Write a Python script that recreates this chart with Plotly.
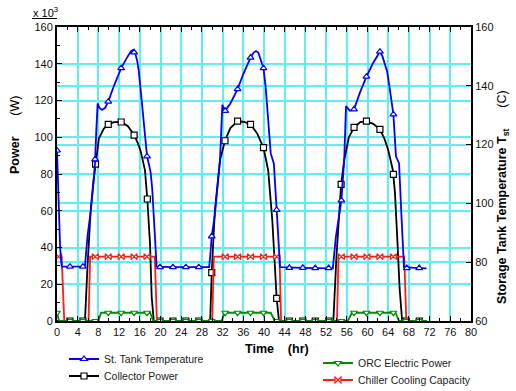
import plotly.graph_objects as go

# ---------------- data ----------------
# Storage tank temperature (C), right axis
temp_t = [0, 0.3, 0.6, 0.9, 2.5, 5.0, 5.4, 5.9, 6.5, 7.0, 7.35, 7.6, 7.85, 8.2, 8.7, 9.3, 9.9, 11.0,
          12.4, 13.5, 14.3, 14.7, 15.1, 15.5, 15.8, 16.2, 16.7, 17.1, 17.4, 17.8, 18.1, 18.4, 18.8, 19.25,
          22.4, 27.4, 29.4, 29.6, 29.9, 30.5, 31.0, 31.5, 31.95, 32.5, 33.5, 34.9, 36.0, 37.4, 38.0,
          38.45, 38.9, 39.4, 39.9, 40.3, 40.6, 41.0, 41.3, 41.9, 42.45, 43.1, 47.5, 53.3, 53.9, 54.95,
          55.5, 55.85, 56.6, 57.4, 58.5, 59.8, 61.0, 62.0, 62.4, 62.9, 63.4, 63.8, 64.3, 65.0, 65.5,
          66.1, 66.5, 67.05, 70.0, 71.4]
temp_v = [118, 100, 85, 78.5, 78.5, 78.5, 78.6, 89, 97, 106, 114, 125, 134, 132.5, 131.8, 132.5, 134.6, 140,
          146, 149.5, 151.8, 152.2, 151.2, 148.5, 145, 138, 128, 120, 116, 113, 110.5, 105, 92, 78.5,
          78.3, 78.3, 78.3, 82, 88.8, 96, 105, 114.8, 133.5, 131.5, 134, 138.9, 144, 149.6, 151.3,
          151.8, 151.3, 149, 146, 140, 134, 124, 117, 113.6, 97.8, 78.3, 78.1, 77.9, 88.7, 101,
          114.8, 133.1, 131.5, 132, 137.5, 143.1, 147.5, 150.8, 151.6, 150, 147.5, 144.8, 139, 130.3, 116,
          113.6, 98, 78.3, 78.0, 77.9]
temp_mk_t = [0, 2.5, 5.0, 7.35, 9.9, 12.4, 14.9, 17.4, 19.9, 22.4, 24.9, 27.4, 29.9, 32.5, 34.9, 37.4,
             39.9, 42.45, 44.9, 47.5, 49.9, 52.5, 54.95, 57.4, 59.8, 62.4, 65.0, 67.6, 70.0]
temp_mk_v = [118, 78.5, 78.5, 115, 134.6, 146, 151.4, 116, 78.3, 78.3, 78.3, 78.3, 88.8, 131.5, 138.9,
             149.6, 146, 97.8, 78.1, 78.1, 78.0, 78.0, 101, 132, 143.1, 151.6, 130.3, 78.0, 78.0]

# Collector power (x 10^3 W), left axis
coll_t = [0, 5.4, 5.9, 6.5, 7.0, 7.45, 8.1, 9.0, 9.9, 11.0, 12.4, 13.7, 14.9, 15.6, 16.2, 17.0, 17.45,
          17.97, 18.3, 18.7, 29.6, 29.9, 30.5, 31.5, 32.46, 33.5, 34.9, 36.2, 37.4, 38.7, 39.9, 40.8,
          41.6, 42.45, 42.9, 53.4, 54.0, 54.9, 55.5, 56.4, 57.4, 58.6, 59.8, 61.1, 62.4, 63.3, 64.0,
          64.9, 65.3, 65.8, 66.2, 66.7, 71.5]
coll_v = [0, 0, 30, 60, 75, 85.4, 99.4, 104.5, 107, 108.2, 108.3, 106, 101.2, 97, 92.1, 82, 66.4,
          42.3, 13, 0, 0, 26.3, 60, 87.6, 98.1, 105, 108.8, 108.3, 107, 102, 94.3, 82.2,
          55, 12.3, 0, 0, 35, 74.4, 87.6, 100, 105.4, 108.2, 108.8, 107.3, 104.3, 99, 93.1,
          82.2, 70, 42.3, 18, 0, 0]
coll_mk_t = [2.5, 5.0, 7.45, 9.9, 12.4, 14.9, 17.45, 19.9, 22.4, 24.9, 27.4, 29.9, 32.46, 34.9, 37.4,
             39.9, 42.45, 44.9, 47.5, 49.9, 52.5, 54.9, 57.4, 59.8, 62.4, 65.0, 67.5, 70.0]
coll_mk_v = [0, 0, 85.4, 107, 108.3, 101.2, 66.4, 0, 0, 0, 0, 26.3, 98.1, 108.8, 107,
             94.3, 12.3, 0, 0, 0, 0, 74.4, 105.4, 108.8, 104.3, 79.8, 0, 0]

# Chiller cooling capacity (x 10^3 W), left axis
chil_t = [0, 0.9, 1.4, 6.1, 6.4, 18.9, 19.3, 30.0, 30.3, 43.0, 43.3, 54.1, 54.4, 67.1, 67.5, 71.5]
chil_v = [35, 35, 0, 0, 35, 35, 0, 0, 35, 35, 0, 0, 35, 35, 0, 0]
chil_mk_t = [0.3, 7.4, 9.9, 12.4, 14.9, 17.4, 32.5, 34.9, 37.4, 39.9, 42.45, 54.95, 57.4, 59.9, 62.4, 65.0]
chil_mk_v = [35, 35, 35, 35, 35, 35, 35, 35, 35, 35, 35, 35, 35, 35, 35, 35]

# ORC electric power (x 10^3 W), left axis
orc_t = [0, 0.4, 8.0, 8.5, 18.0, 18.6, 31.8, 32.4, 41.3, 42.1, 56.2, 57.0, 65.4, 66.1, 71.5]
orc_v = [4.5, 0, 0, 4.5, 4.5, 0, 0, 4.5, 4.5, 0, 0, 4.5, 4.5, 0, 0]
orc_mk_t = [0, 2.5, 5.0, 7.4, 9.9, 12.4, 14.9, 17.4, 19.9, 22.4, 24.9, 27.4, 29.9, 32.5, 34.9, 37.4,
            39.9, 42.45, 44.9, 47.5, 49.9, 52.5, 54.95, 57.4, 59.8, 62.4, 65.0, 67.4, 70.0]
orc_mk_v = [4.5, 0, 0, 0, 4.5, 4.5, 4.5, 4.5, 0, 0, 0, 0, 0, 4.5, 4.5, 4.5,
            4.5, 0, 0, 0, 0, 0, 0, 4.5, 4.5, 4.5, 4.5, 0, 0]

x_ticks = list(range(0, 81, 4))
y_ticks = list(range(0, 161, 20))
y2_ticks = list(range(60, 161, 20))

# ---------------- styles ----------------
FONT = "Arial, Liberation Sans, sans-serif"
GRID = "#5CF0F0"
BLUE = "#0000FF"
BLACK = "#000000"
RED = "#FF1A1A"
GREEN = "#008C00"
LW = 1.8
MS = 6

# plot area in pixels
PL, PR, PT, PB = 57, 471, 27, 321
def px(x):
    return (x - PL) / (PR - PL)
def py(y):
    return (PB - y) / (PB - PT)

fig = go.Figure()

def add_series(t, v, mt, mv, color, symbol, name, yaxis, legend):
    fig.add_trace(go.Scatter(x=t, y=v, mode="lines", line=dict(color=color, width=LW),
                             yaxis=yaxis, showlegend=False, hoverinfo="skip"))
    fig.add_trace(go.Scatter(x=mt, y=mv, mode="markers", yaxis=yaxis, showlegend=False,
                             marker=dict(symbol=symbol, size=MS, color="white",
                                         line=dict(color=color, width=1.2))))
    fig.add_trace(go.Scatter(x=[None], y=[None], mode="lines+markers", name=name, legend=legend,
                             line=dict(color=color, width=LW), yaxis=yaxis,
                             marker=dict(symbol=symbol, size=MS, color="white",
                                         line=dict(color=color, width=1.2))))

add_series(temp_t, temp_v, temp_mk_t, temp_mk_v, BLUE, "triangle-up", "St. Tank Temperature", "y2", "legend")
add_series(coll_t, coll_v, coll_mk_t, coll_mk_v, BLACK, "square", "Collector Power", "y", "legend2")
add_series(chil_t, chil_v, chil_mk_t, chil_mk_v, RED, "bowtie", "Chiller Cooling Capacity", "y", "legend4")
add_series(orc_t, orc_v, orc_mk_t, orc_mk_v, GREEN, "triangle-down", "ORC Electric Power", "y", "legend3")

axis_common = dict(showline=True, linecolor="black", linewidth=2, ticks="inside",
                   tickcolor="black", ticklen=5, tickwidth=1, zeroline=False,
                   gridcolor=GRID, gridwidth=1.5, automargin=False,
                   tickfont=dict(family=FONT, size=11, color="#111111"))

def leg(xpix, center_y):
    return dict(x=px(xpix), y=py(center_y - 14.5), xanchor="left", yanchor="top",
                font=dict(family=FONT, size=10.5, color="#222222"), bgcolor="rgba(0,0,0,0)")

fig.update_layout(
    width=516, height=391,
    margin=dict(l=PL, r=516 - PR, t=PT, b=391 - PB, autoexpand=False),
    paper_bgcolor="white", plot_bgcolor="white",
    font=dict(family=FONT, size=11, color="black"),
    xaxis=dict(range=[0, 80], tickvals=x_ticks, mirror="ticks",
               minor=dict(dtick=2, ticks="inside", ticklen=3, tickcolor="black", showgrid=False),
               **axis_common),
    yaxis=dict(range=[0, 160], tickvals=y_ticks,
               minor=dict(dtick=10, ticks="inside", ticklen=3, tickcolor="black", showgrid=False),
               **axis_common),
    yaxis2=dict(range=[60, 160], tickvals=y2_ticks, overlaying="y", side="right",
                **axis_common),
    legend=leg(64, 359),
    legend2=leg(64, 376),
    legend3=leg(318, 363),
    legend4=leg(318, 380),
    annotations=[
        dict(text="x 10<sup>3</sup>", x=px(31), y=py(12), xref="paper", yref="paper",
             xanchor="left", yanchor="middle", showarrow=False, font=dict(family=FONT, size=11)),
        dict(text="<b>Power</b>      (W)", x=px(15), y=py(135), xref="paper",
             yref="paper", textangle=-90, showarrow=False, xanchor="center", yanchor="middle",
             font=dict(family=FONT, size=12.5)),
        dict(text="<b>Storage Tank Temperature T<sub>st</sub></b>      (C)", x=px(503),
             y=py(197), xref="paper", yref="paper", textangle=-90, showarrow=False,
             xanchor="center", yanchor="middle", font=dict(family=FONT, size=12.5)),
        dict(text="<b>Time    (hr)</b>", x=px(277), y=py(349), xref="paper",
             yref="paper", showarrow=False, xanchor="center", yanchor="middle",
             font=dict(family=FONT, size=12.5)),
    ],
    shapes=[dict(type="line", xref="paper", yref="paper", x0=px(32), x1=0,
                 y0=py(18.5), y1=py(18.5), line=dict(color="black", width=1))],
)

fig.write_html("out.html", config={"displayModeBar": False},
               post_script="document.body.style.margin='0';document.body.style.padding='0';")
